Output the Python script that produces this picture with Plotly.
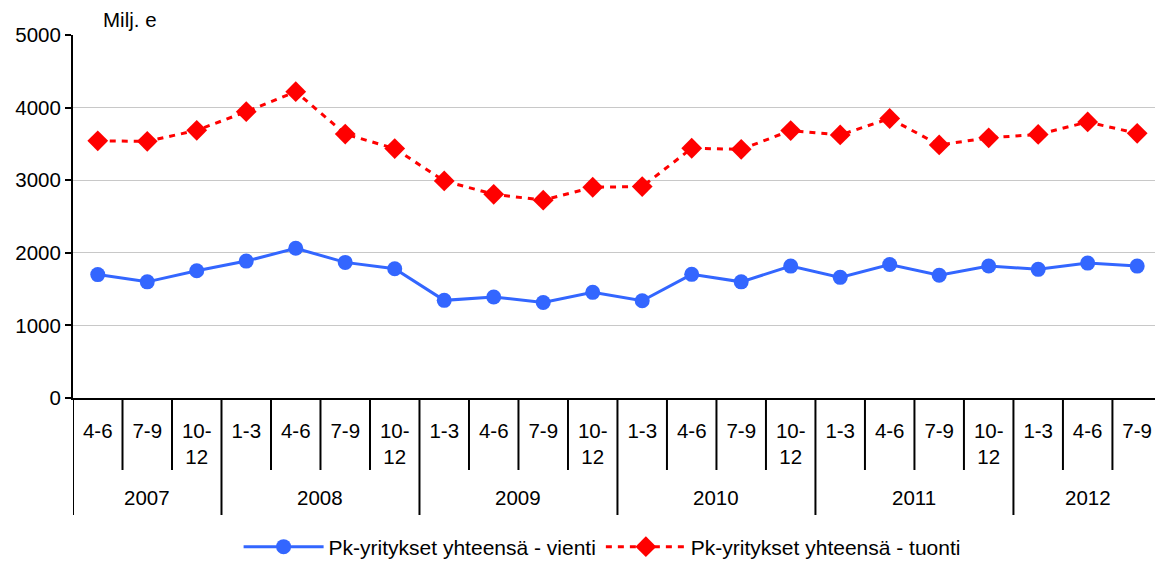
import plotly.graph_objects as go

# Quarterly data, SME exports and imports (million euros)
years = ["2007", "2008", "2009", "2010", "2011", "2012"]
quarters_per_year = [
    ["4-6", "7-9", "10-12"],
    ["1-3", "4-6", "7-9", "10-12"],
    ["1-3", "4-6", "7-9", "10-12"],
    ["1-3", "4-6", "7-9", "10-12"],
    ["1-3", "4-6", "7-9", "10-12"],
    ["1-3", "4-6", "7-9"],
]
vienti = [1700, 1600, 1752, 1886, 2062, 1868, 1780,
          1345, 1392, 1315, 1455, 1340,
          1703, 1600, 1817, 1662, 1838, 1690,
          1818, 1772, 1858, 1817]
tuonti = [3543, 3535, 3687, 3944, 4220, 3636, 3435,
          2990, 2806, 2725, 2903, 2912,
          3440, 3425, 3684, 3623, 3850, 3486,
          3583, 3630, 3802, 3645]

y_ticks = [0, 1000, 2000, 3000, 4000, 5000]
series_names = ["Pk-yritykset yhteensä - vienti", "Pk-yritykset yhteensä - tuonti"]
unit_label = "Milj. e"

# Category keys and labels
keys, labels = [], []
for yr, qs in zip(years, quarters_per_year):
    for q in qs:
        keys.append(f"{yr} {q}")
        labels.append(q.replace("10-12", "10-<br>12"))

FONT = "Liberation Sans, Arial, sans-serif"
FS = 20.5
BLUE = "#3366FF"
RED = "#FF0000"

fig = go.Figure()
fig.add_trace(go.Scatter(
    x=keys, y=vienti, name=series_names[0], mode="lines+markers",
    line=dict(color=BLUE, width=3),
    marker=dict(symbol="circle", size=15, color=BLUE),
))
fig.add_trace(go.Scatter(
    x=keys, y=tuonti, name=series_names[1], mode="lines+markers",
    line=dict(color=RED, width=3, dash="6px,6px"),
    marker=dict(symbol="diamond", size=16, color=RED),
))

# Separators under the category axis
shapes = []
n = len(keys)
group_starts = []
idx = 0
for qs in quarters_per_year:
    group_starts.append(idx)
    idx += len(qs)
for b in range(n):
    xpos = b - 0.5
    y1 = -0.3223 if b in group_starts else -0.1983
    shapes.append(dict(type="line", xref="x", yref="paper", x0=xpos, x1=xpos,
                       y0=0, y1=y1, line=dict(color="black", width=2)))

# Year labels centred under each group
annotations = []
for yr, start, qs in zip(years, group_starts, quarters_per_year):
    center = start + (len(qs) - 1) / 2
    annotations.append(dict(x=center, xref="x", y=-0.274, yref="paper",
                            text=yr, showarrow=False, yanchor="middle",
                            font=dict(family=FONT, size=FS, color="black")))
annotations.append(dict(x=(101 - 73) / 1082, xref="paper", y=(398 - 19) / 363,
                        yref="paper", text=unit_label, showarrow=False,
                        xanchor="left", yanchor="middle",
                        font=dict(family=FONT, size=FS, color="black")))

fig.update_layout(
    width=1155, height=561,
    margin=dict(l=73, r=0, t=35, b=163),
    paper_bgcolor="white", plot_bgcolor="white",
    font=dict(family=FONT, size=FS, color="black"),
    showlegend=True,
    legend=dict(orientation="h", x=0.489, xanchor="center",
                y=1 - 547 / 561, yref="container", yanchor="middle",
                font=dict(size=21), itemwidth=80, bgcolor="rgba(0,0,0,0)"),
    shapes=shapes,
    annotations=annotations,
)
fig.update_xaxes(
    type="category", categoryorder="array", categoryarray=keys,
    tickvals=keys, ticktext=labels, range=[-0.5, 21.36],
    showline=True, linecolor="black", linewidth=2,
    ticks="", showgrid=False, zeroline=False, automargin=False,
    tickfont=dict(family=FONT, size=FS, color="black"),
    ticklabelstandoff=13,
)
fig.update_yaxes(
    range=[0, 5000], tickvals=y_ticks,
    showline=True, linecolor="black", linewidth=2,
    ticks="outside", ticklen=6, tickwidth=2, tickcolor="black",
    showgrid=True, gridcolor="#C8C8C8", gridwidth=1, zeroline=False,
    automargin=False,
    tickfont=dict(family=FONT, size=FS, color="black"),
)

fig.write_html("out.html")
